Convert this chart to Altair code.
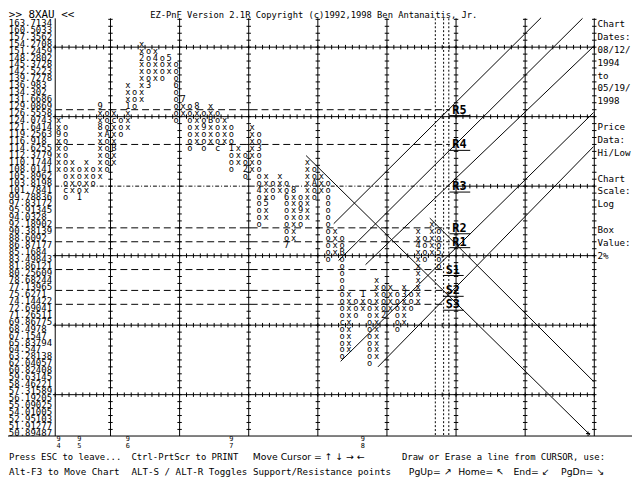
import altair as alt
import pandas as pd

# ---------------- data ----------------
price_labels = [
    "163.7134", "160.5033", "157.3562", "154.2708", "151.2459", "148.2802", "145.3728",
    "142.5223", "139.7278", "136.983", "134.302", "131.6686", "129.0869", "126.5558",
    "124.0743", "121.6414", "119.2563", "116.918", "114.6255", "112.3779", "110.1744",
    "108.0141", "105.8962", "103.8198", "101.7841", "99.78836", "97.83172", "95.91345",
    "94.0328", "92.18902", "90.38139", "88.6092", "86.87177", "85.1684", "83.49843",
    "81.86121", "80.25609", "78.68244", "77.13965", "75.6271", "74.14422", "72.69041",
    "71.26511", "69.86775", "68.4978", "67.1547", "65.83794", "64.547", "63.28138",
    "62.04057", "60.82408", "59.63145", "58.46221", "57.31589", "56.19205", "55.09025",
    "54.01005", "52.95103", "51.91277", "50.89487"]

# point & figure columns (row 0 = top price label), alternating X / O
col_top = [14, 15, 20, 21, 20, 21, 12, 13, 13, 14, 9, 10, 3, 4, 4, 5, 5, 6, 11, 12,
           12, 13, 12, 13, 14, 15, 18, 19, 15, 16, 22, 23, 22, 23, 24, 25, 20, 21, 22, 23,
           30, 31, 39, 40, 39, 40, 37, 38, 38, 39, 38, 39, 30, 31, 29, 30]
col_bot = [21, 25, 24, 25, 24, 23, 22, 21, 20, 16, 15, 12, 11, 9, 8, 8, 7, 14, 13, 18,
           17, 18, 17, 18, 17, 21, 20, 22, 21, 29, 28, 25, 24, 32, 31, 29, 28, 25, 24, 34,
           33, 48, 47, 42, 41, 49, 48, 42, 41, 44, 43, 41, 40, 34, 33, 35]

# month markers that replace a box
month_cols = [0, 1, 3, 6, 6, 7, 8, 8, 10, 12, 13, 14, 16, 17, 18, 20, 21, 22, 23, 25,
              27, 29, 29, 30, 33, 33, 34, 35, 37, 41, 41, 44, 47, 50, 52, 55]
month_rows = [16, 24, 25, 15, 12, 16, 18, 14, 12, 5, 9, 5, 5, 9, 11, 12, 15, 14, 18, 18,
              21, 18, 24, 26, 25, 32, 24, 27, 23, 33, 43, 39, 42, 39, 32, 33]
month_chars = ["9", "c", "1", "8", "9", "A", "B", "c", "1", "2", "3", "4", "5", "6", "7", "8",
               "9", "B", "c", "1", "2", "3", "4", "5", "6", "7", "8", "9", "A", "B", "c", "1",
               "2", "3", "4", "5"]

year_cols = [0, 3, 10, 25, 44]
year_digits = ["4", "5", "6", "7", "8"]

sr_names = ["R5", "R4", "R3", "R2", "R1", "S1", "S2", "S3"]
sr_levels = [12.5, 17.5, 23.5, 29.5, 31.5, 35.5, 38.5, 40.5]

# trend lines: (col, row) start -> end
trend_c1 = [39.8, 40.5, 44.4, 40.8, 46.2, 35.8, 53.7]
trend_r1 = [28.9, 34.2, 34.8, 48.7, 49.5, 19.1, 28.1]
trend_c2 = [69.8, 75.8, 77.4, 77.4, 77.4, 76.9, 77.4]
trend_r2 = [-0.85, -0.7, 3.4, 12.9, 17.8, 59.3, 51.6]

side_lines = ["Chart", "Dates:", "08/12/", "1994", "\u00a0to", "05/19/", "1998", "",
              "Price", "Data:", "Hi/Low", "", "Chart", "Scale:", "Log", "",
              "Box", "Value:", "2%"]

help_mono1 = ["Press ESC to leave...", "Ctrl-PrtScr to PRINT",
              "Draw or Erase a line from CURSOR, use:"]
help_mono2 = ["Alt-F3 to Move Chart", "ALT-S / ALT-R Toggles Support/Resistance points"]
help_arrows1 = ["Move Cursor = \u2191 \u2193 \u2192 \u2190"]
help_arrows2 = ["PgUp= \u2197", "Home= \u2196", "End= \u2199", "PgDn= \u2198"]

# ---------------- geometry (column / row units) ----------------
W, H = 632, 472
XMIN, XMAX = -8.4714, 82.957
YMIN, YMAX = -2.546, 65.347
# piecewise scales: squeeze the label margin / header band, keep the grid 1:1
xs = alt.Scale(domain=[XMIN, -0.4714, XMAX], range=[0, 48, W], nice=False, zero=False)
ys = alt.Scale(domain=[YMIN, -0.5658, YMAX], range=[0, 8, H], nice=False, zero=False)
MONO = "DejaVu Sans Mono"
SANS = "DejaVu Sans"
TOP, BOT = -0.7, 59.45


def seg_layer(rows, dash=None, width=1.0):
    df = pd.DataFrame(rows, columns=["x1", "y1", "x2", "y2"])
    kw = dict(color="black", strokeWidth=width)
    if dash is not None:
        kw["strokeDash"] = dash
    return alt.Chart(df).mark_rule(**kw).encode(
        x=alt.X("x1:Q", scale=xs, axis=None), x2="x2:Q",
        y=alt.Y("y1:Q", scale=ys, axis=None), y2="y2:Q")


def text_layer(df, size, font=MONO, align="left", weight="normal", baseline="middle"):
    return alt.Chart(df).mark_text(
        font=font, fontSize=size, align=align, baseline=baseline,
        fontWeight=weight, color="black").encode(
        x=alt.X("x:Q", scale=xs, axis=None),
        y=alt.Y("y:Q", scale=ys, axis=None),
        text="t:N")


layers = []

# solid grid
vlines = [7.5 + 10 * k for k in range(8)]
grid = [[-0.5, TOP, -0.5, BOT]]
grid += [[u, TOP, u, BOT] for u in vlines]
for r in [3.5, 13.5, 33.5, 43.5, 53.5]:
    grid.append([-0.9, r, 77.5, r])
grid.append([57.0, 23.5, 77.5, 23.5])
grid.append([XMIN, BOT, XMAX, BOT])
layers.append(seg_layer(grid))

# tick marks on the grid lines
ticks = []
for u in vlines:
    for k in range(-1, 59):
        ticks.append([u - 0.32, k + 0.5, u + 0.32, k + 0.5])
for r in [3.5, 13.5, 33.5, 43.5, 53.5]:
    for k in range(-1, 78):
        ticks.append([k + 0.5, r - 0.32, k + 0.5, r + 0.32])
for k in range(57, 78):
    ticks.append([k + 0.5, 23.5 - 0.32, k + 0.5, 23.5 + 0.32])
layers.append(seg_layer(ticks))

# support / resistance levels
sr_end = {"R": 56.6, "S": 55.6}
dashed = [[-0.5, lv, sr_end[n[0]], lv] for n, lv in zip(sr_names, sr_levels) if n != "R3"]
layers.append(seg_layer(dashed, dash=[7, 4]))
r3 = [[-0.5, lv, 56.6, lv] for n, lv in zip(sr_names, sr_levels) if n == "R3"]
layers.append(seg_layer(r3, dash=[4, 2, 1, 2]))

# dotted verticals
dots = [[u, TOP, u, BOT] for u in [54.5, 55.7, 56.45]]
layers.append(seg_layer(dots, dash=[2, 2]))

# trend lines
trend = [[a, b, c, d] for a, b, c, d in zip(trend_c1, trend_r1, trend_c2, trend_r2)]
layers.append(seg_layer(trend))

# boxes
marks = {(c, r): ch for c, r, ch in zip(month_cols, month_rows, month_chars)}
boxes = []
for c, (t, b) in enumerate(zip(col_top, col_bot)):
    sym = "x" if c % 2 == 0 else "o"
    for r in range(t, b + 1):
        boxes.append({"x": c, "y": r, "t": marks.get((c, r), sym)})
layers.append(text_layer(pd.DataFrame(boxes), 8.8, align="center"))

# price labels (left aligned like the reference)
pl = pd.DataFrame({"x": -8.33, "y": list(range(len(price_labels))), "t": price_labels})
layers.append(text_layer(pl, 9.1))

# S/R labels with underline
lab_x = {"R": 56.95, "S": 56.0}
srl = pd.DataFrame({"x": [lab_x[n[0]] for n in sr_names], "y": sr_levels, "t": sr_names})
layers.append(text_layer(srl, 12, weight="bold"))
ul = [[lab_x[n[0]] - 0.4, lv + 0.85, lab_x[n[0]] + 2.6, lv + 0.85] for n, lv in zip(sr_names, sr_levels)]
layers.append(seg_layer(ul))

# right-hand info panel
side = pd.DataFrame({"x": 77.96, "y": [0.18 + 1.853 * i for i in range(len(side_lines))],
                     "t": side_lines})
layers.append(text_layer(side, 9.3))

# header
layers.append(text_layer(pd.DataFrame({"x": [-8.33], "y": [-1.43], "t": [">> 8XAU <<"]}), 11))
layers.append(text_layer(pd.DataFrame({"x": [13.24], "y": [-1.43],
              "t": ["EZ-PnF Version 2.1R Copyright (c)1992,1998 Ben Antanaitis, Jr."]}), 8.9))

# years along the bottom
yr = pd.DataFrame({"x": year_cols * 2, "y": [59.95] * 5 + [60.85] * 5,
                   "t": ["9"] * 5 + year_digits})
layers.append(text_layer(yr, 7, align="center"))

# help lines
layers.append(text_layer(pd.DataFrame({"x": [-8.3, 10.53, 49.67], "y": 62.5, "t": help_mono1}), 9.0))
layers.append(text_layer(pd.DataFrame({"x": [-8.3, 10.53], "y": 64.6, "t": help_mono2}), 9.3))
layers.append(text_layer(pd.DataFrame({"x": [28.1], "y": 62.5, "t": help_arrows1}), 9.4, font=SANS))
layers.append(text_layer(pd.DataFrame({"x": [50.67, 57.8, 65.8, 72.7], "y": 64.6,
                                       "t": help_arrows2}), 9.4, font=SANS))

# cursor cross
cur = [[76.6, 58.8, 76.6, 59.45], [76.3, 59.1, 76.9, 59.1]]
layers.append(seg_layer(cur))

chart = alt.layer(*layers).properties(
    width=W, height=H, padding=0, autosize="none", background="white"
).configure_view(stroke=None)

chart.save("out.html", embed_options={"renderer": "svg", "actions": False})
